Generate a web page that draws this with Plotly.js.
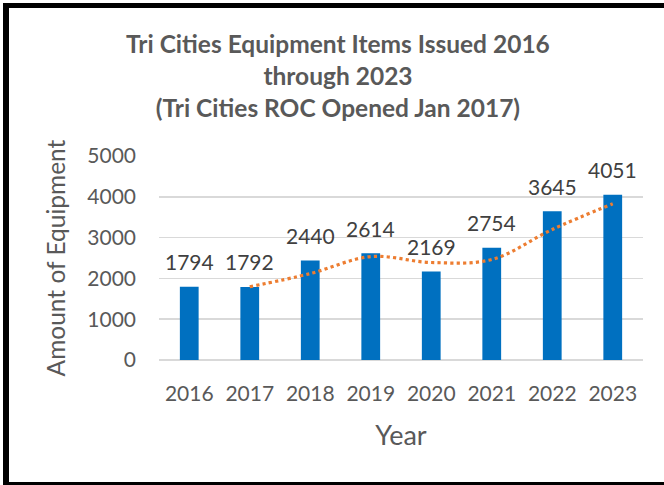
<!DOCTYPE html>
<html>
<head>
<meta charset="utf-8">
<script src="https://cdn.plot.ly/plotly-3.0.1.min.js"></script>
<style>
  html, body { margin: 0; padding: 0; overflow: hidden; background: #fff; }
  #wrap { position: relative; width: 664px; height: 485px; overflow: hidden; }
  #chart { width: 664px; height: 485px; }
  #frame { position: absolute; left: 3px; top: 3px; width: 720px; height: 474px;
           border-left: 6px solid #000; border-top: 5px solid #000; border-bottom: 3px solid #000;
           pointer-events: none; }
</style>
</head>
<body>
<div id="wrap"><div id="chart"></div><div id="frame"></div></div>
<script>
const years = ['2016','2017','2018','2019','2020','2021','2022','2023'];
const items = [1794, 1792, 2440, 2614, 2169, 2754, 3645, 4051];
// dotted trendline
const trend = [null, 1795, 2118, 2535, 2390, 2463, 3200, 3830];
const yTicks = [0, 1000, 2000, 3000, 4000, 5000];

const font = 'Lato, "Open Sans", sans-serif';

const bars = {
  type: 'bar', x: years, y: items,
  marker: { color: '#0070C0' },
  width: 0.31, hoverinfo: 'x+y', showlegend: false
};
const line = {
  type: 'scatter', mode: 'lines', x: years, y: trend,
  line: { color: '#ED7D31', width: 3.2, dash: 'dot', shape: 'spline' },
  connectgaps: false, showlegend: false
};

// category axis: annotations are placed by category index
const annotations = years.map((yr, i) => ({
  x: i, y: items[i], xref: 'x', yref: 'y',
  text: String(items[i]), showarrow: false,
  yanchor: 'middle', yshift: 25,
  font: { family: font, size: 21, color: '#404040' }
}));

const layout = {
  width: 664, height: 485,
  margin: { l: 159, r: 21, t: 156, b: 125 },
  paper_bgcolor: '#fff', plot_bgcolor: '#fff',
  title: {
    text: '<b>Tri Cities Equipment Items Issued 2016<br>through 2023<br>(Tri Cities ROC Opened Jan 2017)</b>',
    x: 0.509, xanchor: 'center', y: 0.891, yanchor: 'top', yref: 'container',
    font: { family: font, size: 24.5, color: '#595959' }
  },
  xaxis: {
    type: 'category', categoryorder: 'array', categoryarray: years,
    range: [-0.5, years.length - 0.5],
    showgrid: false, zeroline: false, showline: false,
    ticks: '', ticklabelstandoff: 19,
    tickfont: { family: font, size: 21, color: '#595959' },
    title: { text: 'Year', font: { family: font, size: 27, color: '#595959' }, standoff: 22 }
  },
  yaxis: {
    range: [0, 5000], tickvals: yTicks, ticktext: yTicks.map(String),
    showgrid: true, gridcolor: '#D9D9D9', gridwidth: 1.5,
    zeroline: true, zerolinecolor: '#D9D9D9', zerolinewidth: 1.5,
    showline: false, ticks: '', ticklabelstandoff: 22,
    tickfont: { family: font, size: 21, color: '#595959' },
    title: { text: 'Amount of Equipment', font: { family: font, size: 24.5, color: '#595959' }, standoff: 14 }
  },
  annotations: annotations,
  bargap: 0.69
};

Plotly.newPlot('chart', [bars, line], layout, { displayModeBar: false, staticPlot: true });
</script>
</body>
</html>
